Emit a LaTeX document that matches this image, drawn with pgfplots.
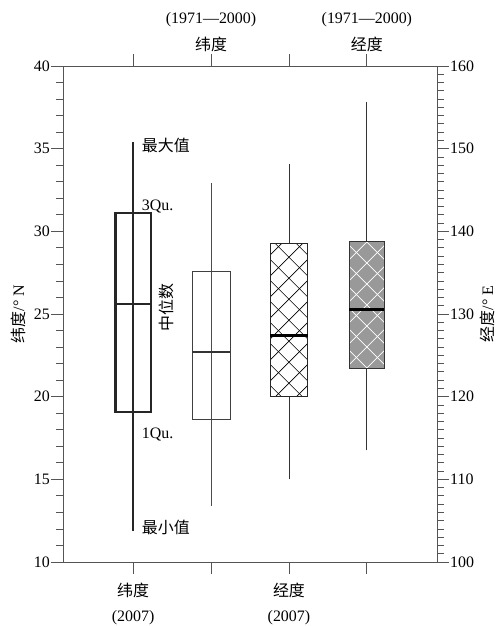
\documentclass[border=0pt]{standalone}
\usepackage{fontspec}
\setmainfont{Liberation Serif}
\newfontfamily\cjk{Noto Sans CJK SC}
\usepackage{pgfplots}
\pgfplotsset{compat=1.18}
\usetikzlibrary{calc}
\definecolor{axisgray}{HTML}{555555}
\definecolor{boxgray}{HTML}{999999}
\pgfplotsset{
  common/.style={
    scale only axis, width=374bp, height=496bp,
    at={(0,0)}, anchor=south west,
    xmin=0.1, xmax=4.9, xtick={1,2,3,4},
    tick align=outside, major tick length=12bp, minor tick length=7bp,
    every tick/.style={axisgray, line width=0.8pt},
    axis line style={axisgray, line width=0.8pt},
    /pgf/number format/assume math mode=true,
    tick label style={font=\fontsize{16}{24}\selectfont},
    yticklabel style={inner sep=1bp},
    xticklabel style={align=center, inner sep=2bp},
    label style={font=\fontsize{16}{24}\selectfont},
  },
}
\begin{document}
\fontsize{16}{24}\selectfont
\begin{tikzpicture}[font=\fontsize{16}{24}\selectfont]
\useasboundingbox (-63bp,-64bp) rectangle (433bp,562bp);
% ---------- latitude axis (left) ----------
\begin{axis}[common,
  axis x line*=bottom, axis y line*=left,
  ymin=10, ymax=40, ytick={10,15,...,40}, minor y tick num=4,
  xticklabels={{{\cjk 纬度}\\[1bp](2007)},{},{{\cjk 经度}\\[1bp](2007)},{}},
  xticklabel style={yshift=-7bp},
  ylabel={{\cjk 纬度}/° N},
  ylabel style={at={(axis description cs:-0.12,0.5)}, anchor=center},
]
% latitude 2007: whisker, box, median
\addplot[line width=1.8pt, color=black!85] coordinates {(1,11.9) (1,35.4)};
\addplot[line width=2.2pt, draw=black!85, line join=miter] coordinates {(0.775,19.05) (1.225,19.05) (1.225,31.1) (0.775,31.1)} -- cycle;
\addplot[line width=2.8pt, color=black!85] coordinates {(0.775,25.6) (1.225,25.6)};
% latitude 1971-2000
\addplot[line width=0.8pt, color=black!70] coordinates {(2,13.4) (2,32.9)};
\addplot[line width=0.9pt, draw=black!75, line join=miter] coordinates {(1.755,18.6) (2.245,18.6) (2.245,27.6) (1.755,27.6)} -- cycle;
\addplot[line width=2.8pt, color=black!80] coordinates {(1.755,22.7) (2.245,22.7)};
\node[anchor=west, inner sep=0pt] at (axis cs:1.11,35.2) {\cjk 最大值};
\node[anchor=west, inner sep=0pt] at (axis cs:1.11,31.5) {3Qu.};
\node[rotate=90, inner sep=0pt] at (axis cs:1.43,25.4) {\cjk 中位数};
\node[anchor=west, inner sep=0pt] at (axis cs:1.11,17.7) {1Qu.};
\node[anchor=west, inner sep=0pt] at (axis cs:1.11,12.1) {\cjk 最小值};
\end{axis}
% ---------- longitude axis (right) ----------
\begin{axis}[common,
  axis x line*=top, axis y line*=right,
  ymin=100, ymax=160, ytick={100,110,...,160}, minor y tick num=9,
  xticklabels={{},{(1971---2000)\\[3bp]{\cjk 纬度}},{},{(1971---2000)\\[3bp]{\cjk 经度}}},
  ylabel={{\cjk 经度}/° E},
  ylabel style={at={(axis description cs:1.134,0.5)}, anchor=center},
]
% longitude 2007
\addplot[line width=0.8pt, color=black!80] coordinates {(3,110) (3,148.2)};
\addplot[fill=white, draw=none] coordinates {(2.76,120) (3.24,120) (3.24,138.5) (2.76,138.5)} -- cycle;
\begin{scope}
  \clip (axis cs:2.76,120) rectangle (axis cs:3.24,138.5);
  \pgfplotsinvokeforeach{-6,...,6}{
    \draw[black, line width=0.6pt] ($(axis cs:3,129.25)+(#1*21bp-100bp,-100bp)$) -- ++(200bp,200bp);
    \draw[black, line width=0.6pt] ($(axis cs:3,129.25)+(#1*21bp+100bp,-100bp)$) -- ++(-200bp,200bp);
  }
\end{scope}
\addplot[draw=black!85, line width=1.4pt, line join=miter]
  coordinates {(2.76,120) (3.24,120) (3.24,138.5) (2.76,138.5)} -- cycle;
\addplot[line width=2.8pt, color=black] coordinates {(2.76,127.4) (3.24,127.4)};
% longitude 1971-2000
\addplot[line width=0.8pt, color=black!80] coordinates {(4,113.5) (4,155.6)};
\addplot[fill=boxgray, draw=none] coordinates {(3.775,123.4) (4.225,123.4) (4.225,138.8) (3.775,138.8)} -- cycle;
\begin{scope}
  \clip (axis cs:3.775,123.4) rectangle (axis cs:4.225,138.8);
  \pgfplotsinvokeforeach{-6,...,6}{
    \draw[white, line width=0.7pt] ($(axis cs:4,131.1)+(#1*21bp-100bp,-100bp)$) -- ++(200bp,200bp);
    \draw[white, line width=0.7pt] ($(axis cs:4,131.1)+(#1*21bp+100bp,-100bp)$) -- ++(-200bp,200bp);
  }
\end{scope}
\addplot[draw=black!80, line width=1.4pt, line join=miter]
  coordinates {(3.775,123.4) (4.225,123.4) (4.225,138.8) (3.775,138.8)} -- cycle;
\addplot[line width=2.8pt, color=black] coordinates {(3.775,130.5) (4.225,130.5)};
\end{axis}
\end{tikzpicture}
\end{document}
